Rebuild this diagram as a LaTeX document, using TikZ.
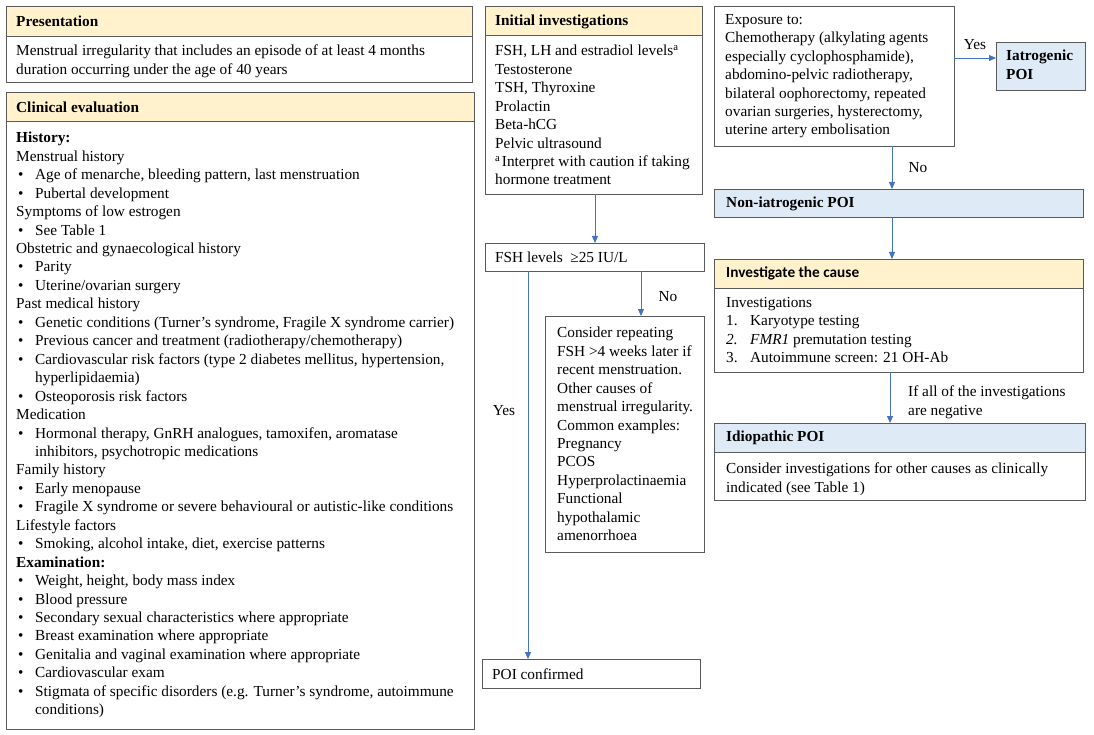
\documentclass[tikz,border=0pt]{standalone}
\usepackage{fontspec}
\setmainfont{Liberation Serif}
\newfontfamily\carlito{Carlito}
\usetikzlibrary{arrows.meta,calc}
\definecolor{bordergray}{RGB}{90,90,90}
\definecolor{hdryellow}{RGB}{255,242,204}
\definecolor{hdrblue}{RGB}{222,235,247}
\definecolor{arrblue}{RGB}{68,114,196}
\newcommand\mkbox[6]{\node[#1,anchor=north west,inner sep=0pt,outer sep=0pt,minimum width={(#5-#3)*1pt},minimum height={(#6-#4)*1pt}] (#2) at (#3,#4) {};}
\newcommand\bl{\makebox[19pt][l]{\hspace{2pt}\textbullet}}
\newcommand\ind{\hspace*{19pt}}
\newcommand\numi[1]{\makebox[24pt][l]{#1}}
\begin{document}
\begin{tikzpicture}[x=1pt,y=-1pt,
 frame/.style={draw=bordergray,line width=0.9pt,fill=white},
 yhead/.style={frame,fill=hdryellow},
 bhead/.style={frame,fill=hdrblue},
 txt/.style={anchor=north west,inner sep=0pt,align=left,font=\fontsize{15.3}{18.45}\selectfont},
 btxt/.style={txt,font=\fontsize{15.3}{18.45}\selectfont\bfseries},
 stxt/.style={txt,font=\fontsize{15.3}{18.45}\selectfont\carlito\bfseries},
 arr/.style={draw=arrblue,line width=0.8pt,-{Triangle[length=7pt,width=6pt]}},
 lbl/.style={inner sep=0pt,font=\fontsize{15.3}{18.45}\selectfont},
]
\useasboundingbox[fill=white] (0,0) rectangle (1094,735);

% boxes
\mkbox{yhead}{presH}{6}{6}{472}{36}
\mkbox{frame}{presB}{6}{36}{472}{82}
\mkbox{yhead}{clinH}{6}{92}{474}{121}
\mkbox{frame}{clinB}{6}{121}{474}{729}
\mkbox{yhead}{initH}{485}{6}{702}{35}
\mkbox{frame}{initB}{485}{35}{702}{194}
\mkbox{frame}{fsh}{485}{243}{704}{271}
\mkbox{frame}{cons}{545}{316}{704}{552}
\mkbox{frame}{poi}{482}{659}{700}{688}
\mkbox{frame}{expo}{714}{6}{954}{146}
\mkbox{bhead}{iat}{996}{42}{1085}{90}
\mkbox{bhead}{noniat}{714}{189}{1083}{217}
\mkbox{yhead}{invH}{714}{259}{1083}{288}
\mkbox{frame}{invB}{714}{288}{1083}{372}
\mkbox{bhead}{idioH}{714}{423}{1085}{452}
\mkbox{frame}{idioB}{714}{452}{1085}{500}

% texts
\node[btxt] (tpresH) at (16,16) {Presentation};
\node[txt] (tpresB) at (16,45) {Menstrual irregularity that includes an episode of at least 4 months\\duration occurring under the age of 40 years};
\node[btxt] (tclinH) at (16,102) {Clinical evaluation};
\node[txt] (tclinB) at (16,132) {\textbf{History:}\\
Menstrual history\\
\bl Age of menarche, bleeding pattern, last menstruation\\
\bl Pubertal development\\
Symptoms of low estrogen\\
\bl See Table 1\\
Obstetric and gynaecological history\\
\bl Parity\\
\bl Uterine/ovarian surgery\\
Past medical history\\
\bl Genetic conditions (Turner’s syndrome, Fragile X syndrome carrier)\\
\bl Previous cancer and treatment (radiotherapy/chemotherapy)\\
\bl Cardiovascular risk factors (type 2 diabetes mellitus, hypertension,\\
\ind hyperlipidaemia)\\
\bl Osteoporosis risk factors\\
Medication\\
\bl Hormonal therapy, GnRH analogues, tamoxifen, aromatase\\
\ind inhibitors, psychotropic medications\\
Family history\\
\bl Early menopause\\
\bl Fragile X syndrome or severe behavioural or autistic-like conditions\\
Lifestyle factors\\
\bl Smoking, alcohol intake, diet, exercise patterns\\
\textbf{Examination:}\\
\bl Weight, height, body mass index\\
\bl Blood pressure\\
\bl Secondary sexual characteristics where appropriate\\
\bl Breast examination where appropriate\\
\bl Genitalia and vaginal examination where appropriate\\
\bl Cardiovascular exam\\
\bl Stigmata of specific disorders (e.g. Turner’s syndrome, autoimmune\\
\ind conditions)};

\node[btxt] (tinitH) at (495,15) {Initial investigations};
\node[txt] (tinitB) at (495,45) {FSH, LH and estradiol levels\textsuperscript{a}\\
Testosterone\\
TSH, Thyroxine\\
Prolactin\\
Beta-hCG\\
Pelvic ultrasound\\
\textsuperscript{a}\hspace{1.5pt}Interpret with caution if taking\\
hormone treatment};
\node[txt] (tfsh) at (495,252) {FSH levels\ \ ≥25 IU/L};
\node[txt] (tcons) at (557,327) {Consider repeating\\
FSH >4 weeks later if\\
recent menstruation.\\
Other causes of\\
menstrual irregularity.\\
Common examples:\\
Pregnancy\\
PCOS\\
Hyperprolactinaemia\\
Functional\\
hypothalamic\\
amenorrhoea};
\node[txt] (tpoi) at (492,669) {POI confirmed};

\node[txt] (texpo) at (725,14) {Exposure to:\\
Chemotherapy (alkylating agents\\
especially cyclophosphamide),\\
abdomino-pelvic radiotherapy,\\
bilateral oophorectomy, repeated\\
ovarian surgeries, hysterectomy,\\
uterine artery embolisation};
\node[btxt] (tiat) at (1006,50) {Iatrogenic\\POI};
\node[btxt] (tnoniat) at (726,197) {Non-iatrogenic POI};
\node[stxt] (tinvH) at (726,267) {Investigate the cause};
\node[txt] (tinvB) at (726,297) {Investigations\\
\numi{1.}Karyotype testing\\
\numi{\textit{2.}}\textit{FMR1} premutation testing\\
\numi{3.}Autoimmune screen: 21 OH-Ab};
\node[btxt] (tidioH) at (726,431) {Idiopathic POI};
\node[txt] (tidioB) at (726,463) {Consider investigations for other causes as clinically\\indicated (see Table 1)};

% connectors
\coordinate (yesY) at (0,58);
\coordinate (xR1) at (892,0);
\coordinate (xR2) at (890,0);
\coordinate (xF) at (595,0);
\coordinate (xNo) at (641,0);
\coordinate (xYes) at (528,0);
\draw[arr] (expo.east |- yesY) -- (iat.west |- yesY);
\draw[arr] (expo.south -| xR1) -- (noniat.north -| xR1);
\draw[arr] (noniat.south -| xR1) -- (invH.north -| xR1);
\draw[arr] (invB.south -| xR2) -- (idioH.north -| xR2);
\draw[arr] (initB.south -| xF) -- (fsh.north -| xF);
\draw[arr] (fsh.south -| xNo) -- (cons.north -| xNo);
\draw[arr] (fsh.south -| xYes) -- (poi.north -| xYes);

% labels
\node[lbl] (lyes1) at (975,45) {Yes};
\node[lbl] (lno1) at (918,168) {No};
\node[lbl] (lno2) at (668,297) {No};
\node[lbl] (lyes2) at (504,411) {Yes};
\node[txt] (lneg) at (908,386) {If all of the investigations\\are negative};
\end{tikzpicture}
\end{document}
